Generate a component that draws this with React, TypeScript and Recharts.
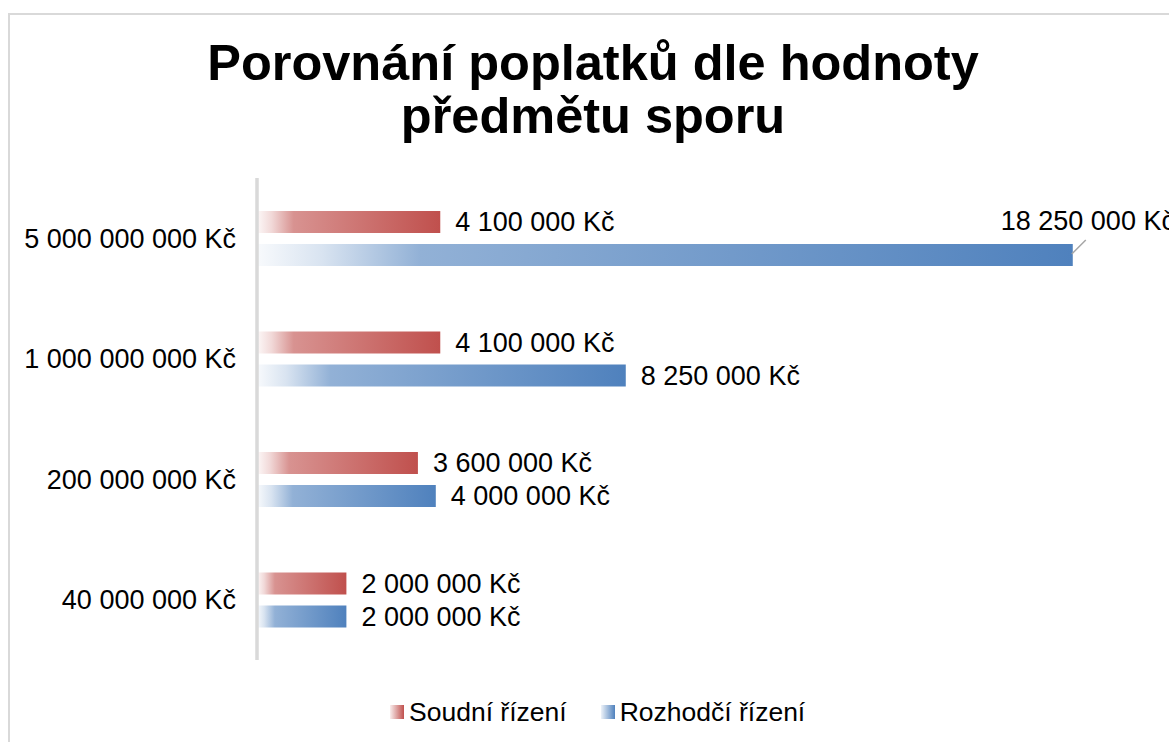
import { BarChart, Bar, XAxis, YAxis, LabelList } from "recharts";

const categories = ["5 000 000 000 Kč", "1 000 000 000 Kč", "200 000 000 Kč", "40 000 000 Kč"];
const soudni = [4100000, 4100000, 3600000, 2000000];
const rozhodci = [18250000, 8250000, 4000000, 2000000];
const seriesNames = ["Soudní řízení", "Rozhodčí řízení"];
const seriesColors = ["#C0504D", "#4F81BD"];
const titleLines = ["Porovnání poplatků dle hodnoty", "předmětu sporu"];

const data = categories.map((name, i) => ({ name, soudni: soudni[i], rozhodci: rozhodci[i] }));

const fmt = (v: number) => v.toLocaleString("en-US").replace(/,/g, " ") + " Kč";

const W = 1169;
const H = 742;

const ValueLabel = (props: any) => {
  const { x, y, width, height, value } = props;
  const end = x + width;
  if (end > 950) {
    // no room on the right: put it above, with a leader line
    return (
      <g>
        <line x1={end - 1} y1={y + 10} x2={end + 13} y2={y - 4} stroke="#a6a6a6" strokeWidth={1.5} />
        <text x={end - 72} y={y - 14} fontSize={27} fill="#000">
          {fmt(value)}
        </text>
      </g>
    );
  }
  return (
    <text x={end + 15} y={y + height / 2} dominantBaseline="central" fontSize={27} fill="#000">
      {fmt(value)}
    </text>
  );
};

const Grad = ({ id, color }: { id: string; color: string }) => (
  <linearGradient id={id} x1="0" y1="0" x2="1" y2="0">
    <stop offset="0" stopColor={color} stopOpacity={0.04} />
    <stop offset="0.08" stopColor={color} stopOpacity={0.22} />
    <stop offset="0.2" stopColor={color} stopOpacity={0.62} />
    <stop offset="1" stopColor={color} stopOpacity={1} />
  </linearGradient>
);

export default function App() {
  return (
    <div style={{ position: "relative", width: W, height: H, overflow: "hidden", background: "#fff", fontFamily: "'Liberation Sans', Arial, sans-serif" }}>
      <style>{`body{margin:0;overflow:hidden}`}</style>
      <div style={{ position: "absolute", left: 8, top: 13, width: 1300, height: 900, border: "2px solid #d9d9d9" }} />
      <div style={{ position: "absolute", left: 8, top: 36, width: 1170, textAlign: "center", fontSize: 50.5, lineHeight: "53px", fontWeight: "bold", color: "#000" }}>
        {titleLines.map((t) => (
          <div key={t}>{t}</div>
        ))}
      </div>
      <div style={{ position: "absolute", left: 0, top: 0 }}>
        <BarChart width={W} height={H} data={data} layout="vertical" barGap={11} margin={{ top: 178, right: 18, bottom: 82, left: 0 }}>
          <defs>
            <Grad id="gradRed" color={seriesColors[0]} />
            <Grad id="gradBlue" color={seriesColors[1]} />
          </defs>
          <XAxis type="number" domain={[0, 20000000]} hide />
          <YAxis
            type="category"
            dataKey="name"
            width={257}
            axisLine={{ stroke: "#d9d9d9", strokeWidth: 3.5 }}
            tickLine={false}
            tickMargin={15}
            tick={{ fontSize: 27, fill: "#000" }}
          />
          <Bar dataKey="soudni" name={seriesNames[0]} fill="url(#gradRed)" barSize={22} isAnimationActive={false}>
            <LabelList dataKey="soudni" content={ValueLabel} />
          </Bar>
          <Bar dataKey="rozhodci" name={seriesNames[1]} fill="url(#gradBlue)" barSize={22} isAnimationActive={false}>
            <LabelList dataKey="rozhodci" content={ValueLabel} />
          </Bar>
        </BarChart>
      </div>
      <div style={{ position: "absolute", left: 390, top: 697, height: 30, display: "flex", alignItems: "center", fontSize: 26.5, color: "#000" }}>
        {seriesNames.map((n, i) => (
          <div key={n} style={{ display: "flex", alignItems: "center", marginRight: 34 }}>
            <svg width={14} height={14} style={{ marginRight: 5 }}>
              <defs>
                <linearGradient id={"lg" + i} x1="0" y1="0" x2="1" y2="0">
                  <stop offset="0" stopColor={seriesColors[i]} stopOpacity={0.1} />
                  <stop offset="1" stopColor={seriesColors[i]} stopOpacity={1} />
                </linearGradient>
              </defs>
              <rect width={14} height={14} fill={`url(#lg${i})`} />
            </svg>
            <span>{n}</span>
          </div>
        ))}
      </div>
    </div>
  );
}
